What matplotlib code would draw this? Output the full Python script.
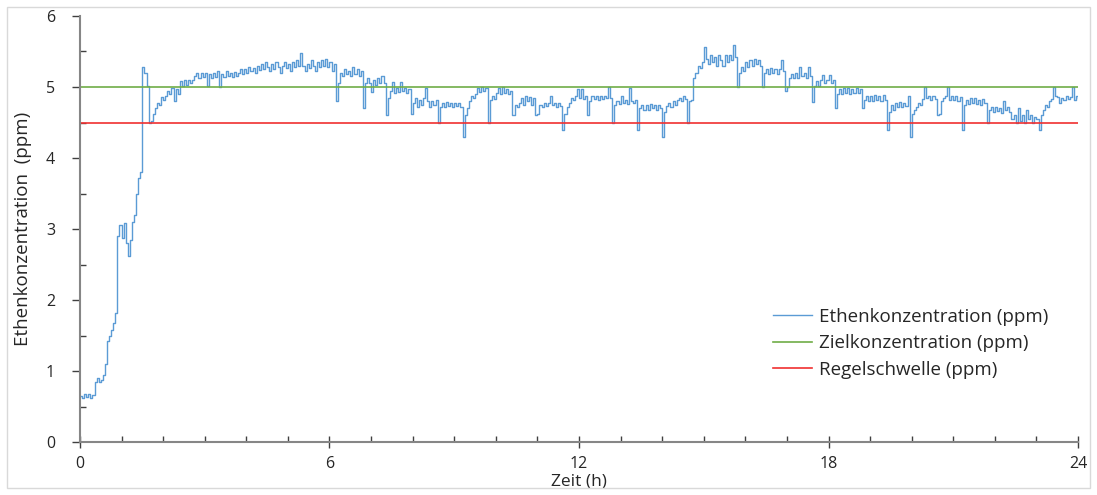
import numpy as np
import matplotlib
matplotlib.use('Agg')
import matplotlib.pyplot as plt
import matplotlib.ticker as mticker
from matplotlib.patches import Rectangle

step_h = 0.05
conc = [
    0.65, 0.62, 0.68, 0.63, 0.67, 0.62, 0.66, 0.85, 0.90, 0.84, 0.88, 0.95, 1.10, 1.42, 1.50, 1.58, 1.68, 1.82, 2.90, 3.05,
    2.88, 3.08, 2.80, 2.62, 2.85, 3.10, 3.20, 3.50, 3.72, 3.80, 5.28, 5.20, 5.02, 4.50, 4.52, 4.62, 4.70, 4.78, 4.75, 4.86,
    4.82, 4.88, 4.95, 4.90, 4.98, 4.80, 4.97, 4.90, 5.08, 5.02, 5.10, 5.03, 5.10, 5.05, 5.10, 5.15, 5.20, 5.12, 5.20, 5.14,
    5.20, 5.02, 5.18, 5.12, 5.20, 5.14, 5.22, 5.00, 5.18, 5.14, 5.22, 5.15, 5.20, 5.14, 5.21, 5.15, 5.20, 5.25, 5.18, 5.26,
    5.20, 5.28, 5.22, 5.27, 5.20, 5.30, 5.24, 5.33, 5.25, 5.35, 5.28, 5.22, 5.32, 5.26, 5.35, 5.28, 5.20, 5.30, 5.35, 5.27,
    5.33, 5.22, 5.35, 5.28, 5.38, 5.30, 5.48, 5.30, 5.22, 5.33, 5.27, 5.38, 5.30, 5.22, 5.35, 5.28, 5.38, 5.30, 5.40, 5.28,
    5.35, 5.22, 5.32, 4.80, 5.05, 5.20, 5.15, 5.25, 5.18, 5.22, 5.15, 5.28, 5.18, 5.25, 5.15, 5.22, 4.70, 5.05, 5.12, 5.05,
    4.93, 5.10, 5.03, 5.12, 5.05, 5.15, 5.05, 4.60, 4.85, 4.95, 5.07, 4.92, 4.98, 4.93, 5.07, 4.95, 4.98, 4.92, 4.97, 4.62,
    4.78, 4.85, 4.72, 4.82, 4.75, 4.85, 4.98, 4.80, 4.72, 4.80, 4.75, 4.82, 4.49, 4.72, 4.78, 4.72, 4.79, 4.73, 4.78, 4.72,
    4.78, 4.73, 4.77, 4.72, 4.30, 4.60, 4.70, 4.80, 4.88, 4.85, 4.90, 4.98, 4.93, 5.00, 4.94, 4.99, 4.49, 4.82, 4.88, 4.83,
    4.92, 4.98, 4.90, 5.00, 4.92, 4.97, 4.90, 4.95, 4.60, 4.75, 4.72, 4.78, 4.85, 4.75, 4.88, 4.80, 4.86, 4.75, 4.85, 4.60,
    4.62, 4.75, 4.72, 4.78, 4.73, 4.77, 4.88, 4.74, 4.78, 4.72, 4.77, 4.73, 4.39, 4.62, 4.72, 4.78, 4.85, 4.82, 4.88, 4.97,
    4.85, 4.97, 4.83, 4.88, 4.60, 4.80, 4.88, 4.83, 4.88, 4.82, 4.87, 4.83, 4.88, 4.84, 5.00, 4.85, 4.49, 4.75, 4.80, 4.76,
    4.88, 4.77, 4.82, 4.76, 4.98, 4.80, 4.77, 4.82, 4.39, 4.70, 4.75, 4.67, 4.74, 4.68, 4.76, 4.70, 4.75, 4.68, 4.74, 4.70,
    4.30, 4.65, 4.73, 4.78, 4.72, 4.80, 4.75, 4.82, 4.85, 4.80, 4.88, 4.83, 4.49, 4.80, 4.82, 5.12, 5.20, 5.30, 5.27, 5.35,
    5.56, 5.40, 5.32, 5.45, 5.35, 5.42, 5.30, 5.45, 5.38, 5.30, 5.45, 5.35, 5.45, 5.38, 5.59, 5.42, 5.00, 5.20, 5.28, 5.22,
    5.35, 5.28, 5.38, 5.30, 5.40, 5.32, 5.38, 5.30, 5.00, 5.20, 5.25, 5.18, 5.27, 5.20, 5.25, 5.18, 5.26, 5.38, 5.22, 4.95,
    5.00, 5.12, 5.18, 5.12, 5.20, 5.13, 5.28, 5.15, 5.20, 5.12, 5.28, 5.15, 4.79, 5.02, 5.08, 5.02, 5.10, 5.17, 5.05, 5.10,
    5.17, 5.05, 5.10, 4.70, 4.90, 4.97, 4.90, 4.98, 4.92, 4.98, 4.90, 4.97, 4.91, 4.98, 4.92, 4.97, 4.70, 4.82, 4.88, 4.80,
    4.88, 4.80, 4.89, 4.82, 4.88, 4.80, 4.89, 4.82, 4.40, 4.65, 4.75, 4.68, 4.78, 4.72, 4.79, 4.72, 4.78, 4.73, 4.88, 4.30,
    4.62, 4.68, 4.72, 4.78, 4.75, 4.83, 5.00, 4.85, 4.88, 4.82, 4.88, 4.83, 4.60, 4.62, 4.80, 4.85, 4.88, 5.00, 4.82, 4.88,
    4.82, 4.88, 4.80, 4.86, 4.39, 4.75, 4.82, 4.76, 4.85, 4.78, 4.84, 4.76, 4.82, 4.75, 4.83, 4.77, 4.49, 4.68, 4.72, 4.65,
    4.72, 4.66, 4.71, 4.64, 4.80, 4.67, 4.72, 4.65, 4.55, 4.60, 4.50, 4.70, 4.52, 4.60, 4.50, 4.68, 4.55, 4.60, 4.50, 4.58,
    4.55, 4.39, 4.60, 4.68, 4.75, 4.72, 4.80, 4.83, 5.00, 4.88, 4.86, 4.78, 4.85, 4.82, 4.88, 4.83, 4.86, 5.00, 4.82, 4.88,
    4.85,
]
zeit = np.arange(len(conc)) * step_h

ziel = 5.0       # Zielkonzentration (ppm)
schwelle = 4.5   # Regelschwelle (ppm)

x_ticks = [0, 6, 12, 18, 24]
y_ticks = [0, 1, 2, 3, 4, 5, 6]

plt.rcParams['font.family'] = ['Open Sans', 'DejaVu Sans']

fig = plt.figure(figsize=(10.97, 4.95), dpi=100)
ax = fig.add_axes([0.0729, 0.107, 0.9098, 0.8607])

ax.plot(zeit, conc, color='#5b9bd5', lw=1.0, drawstyle='steps-post', label='Ethenkonzentration (ppm)')
ax.axhline(ziel, color='#70ad47', lw=1.2, label='Zielkonzentration (ppm)')
ax.axhline(schwelle, color='#f03030', lw=1.2, label='Regelschwelle (ppm)')

ax.set_xlim(0, 24)
ax.set_ylim(0, 6)
ax.set_xticks(x_ticks)
ax.set_yticks(y_ticks)
ax.xaxis.set_minor_locator(mticker.MultipleLocator(1))
ax.yaxis.set_minor_locator(mticker.MultipleLocator(0.5))

for side in ['top', 'right']:
    ax.spines[side].set_visible(False)
for side in ['left', 'bottom']:
    ax.spines[side].set_color('#868686')
    ax.spines[side].set_linewidth(1.5)

ax.tick_params(axis='y', which='major', direction='out', length=6, width=1, color='#404040',
               labelsize=11.5, labelcolor='#262626', pad=12)
ax.tick_params(axis='y', which='minor', direction='in', length=4, width=1, color='#404040')
ax.tick_params(axis='x', which='major', direction='inout', length=8, width=1, color='#404040',
               labelsize=11.5, labelcolor='#262626', pad=6)
ax.tick_params(axis='x', which='minor', direction='in', length=4, width=1, color='#404040')

ax.set_xlabel('Zeit (h)', fontsize=12.5, color='#262626', labelpad=1)
ax.set_ylabel('Ethenkonzentration  (ppm)', fontsize=13.5, color='#262626', labelpad=10)

ax.legend(loc='upper left', bbox_to_anchor=(0.677, 0.355), frameon=False, fontsize=13.5,
          handlelength=2.1, handletextpad=0.4, labelspacing=0.45, labelcolor='#262626')

# heller Rahmen um die gesamte Grafik
fig.patches.append(Rectangle((7 / 1097, 7 / 495), 1083 / 1097, 481 / 495, transform=fig.transFigure,
                             fill=False, edgecolor='#d9d9d9', lw=1))

fig.savefig('out.png', dpi=100)
